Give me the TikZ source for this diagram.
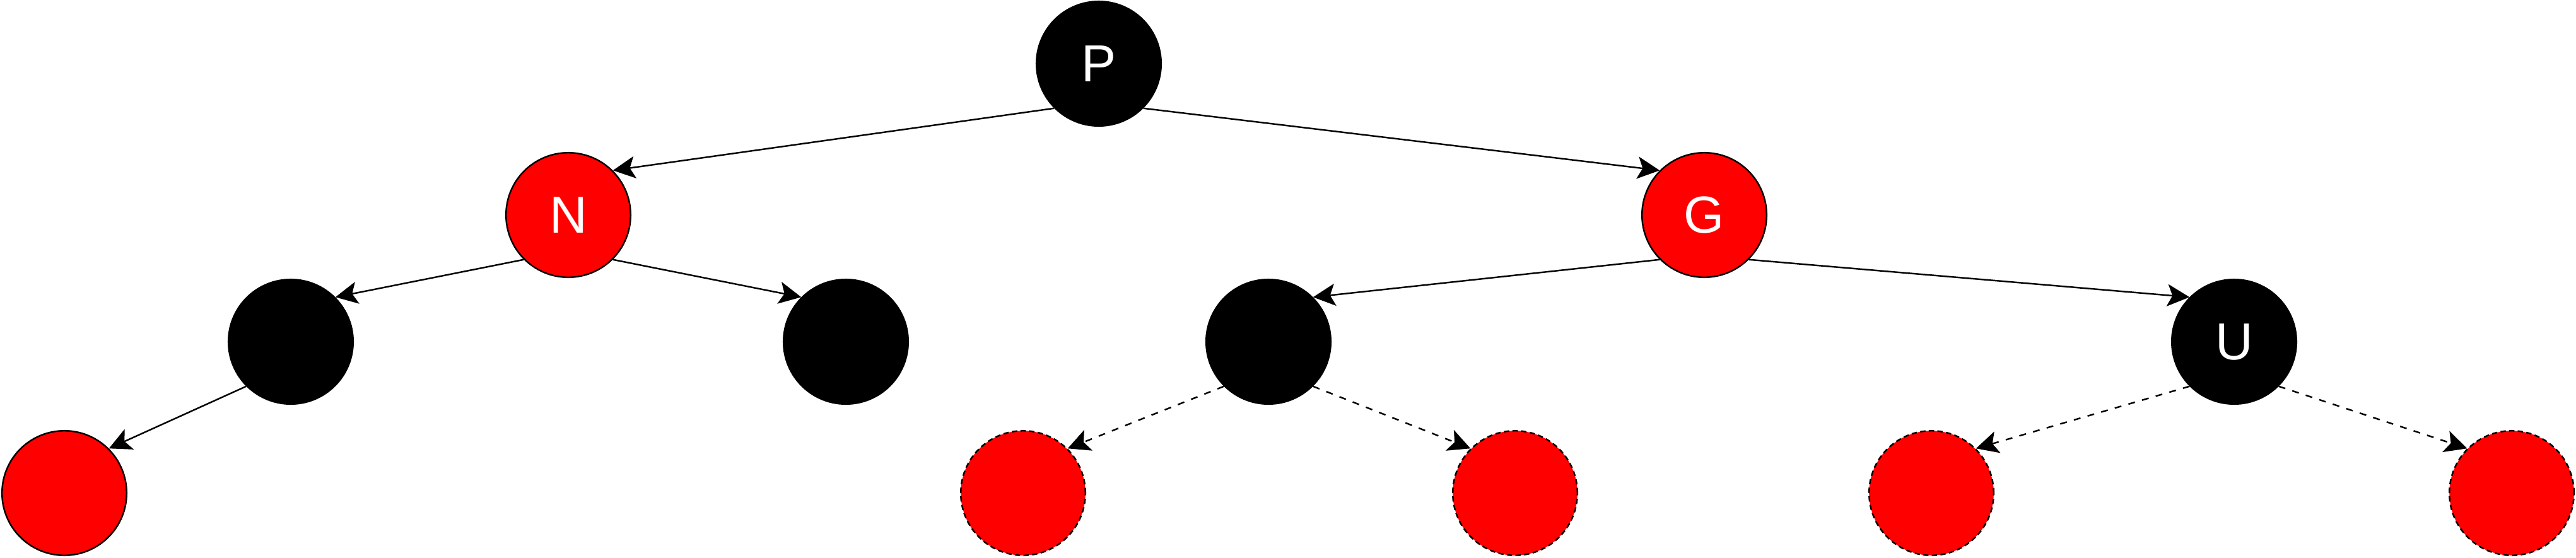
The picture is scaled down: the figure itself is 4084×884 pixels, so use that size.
\documentclass[tikz,border=0pt]{standalone}
\usepackage{fontspec}
\setmainfont{Liberation Sans}
\usetikzlibrary{arrows.meta}
\tikzset{
  rbnode/.style={circle, minimum size=1.975cm, inner sep=0pt, line width=0.7pt, draw=black,
    text=white, font=\fontsize{23.5}{28}\selectfont},
  blacknode/.style={rbnode, fill=black},
  rednode/.style={rbnode, fill=red},
  nilnode/.style={rbnode, fill=red, dash pattern=on 2.4pt off 1.5pt},
  edge/.style={line width=0.7pt, -{Stealth[length=10pt, width=10pt, inset=2.3pt]}},
  niledge/.style={edge, dash pattern=on 3.1pt off 3.3pt}
}
\begin{document}
\begin{tikzpicture}[x=0.01cm, y=-0.01cm]
\useasboundingbox (0,0) rectangle (4084,884);
\node[blacknode] (P) at (1742,101) {P};
\node[rednode] (N) at (901,341) {N};
\node[rednode] (G) at (2702,341) {G};
\node[blacknode] (NL) at (461,542) {};
\node[blacknode] (NR) at (1341,542) {};
\node[blacknode] (GL) at (2011,542) {};
\node[blacknode] (U) at (3542,542) {U};
\node[rednode] (NLL) at (102,782) {};
\node[nilnode] (GLL) at (1622,782) {};
\node[nilnode] (GLR) at (2402,782) {};
\node[nilnode] (UL) at (3062,782) {};
\node[nilnode] (UR) at (3982,782) {};
\draw[edge] (P.south west) -- (N.north east);
\draw[edge] (P.south east) -- (G.north west);
\draw[edge] (N.south west) -- (NL.north east);
\draw[edge] (N.south east) -- (NR.north west);
\draw[edge] (NL.south west) -- (NLL.north east);
\draw[edge] (G.south west) -- (GL.north east);
\draw[edge] (G.south east) -- (U.north west);
\draw[niledge] (GL.south west) -- (GLL.north east);
\draw[niledge] (GL.south east) -- (GLR.north west);
\draw[niledge] (U.south west) -- (UL.north east);
\draw[niledge] (U.south east) -- (UR.north west);
\end{tikzpicture}
\end{document}
